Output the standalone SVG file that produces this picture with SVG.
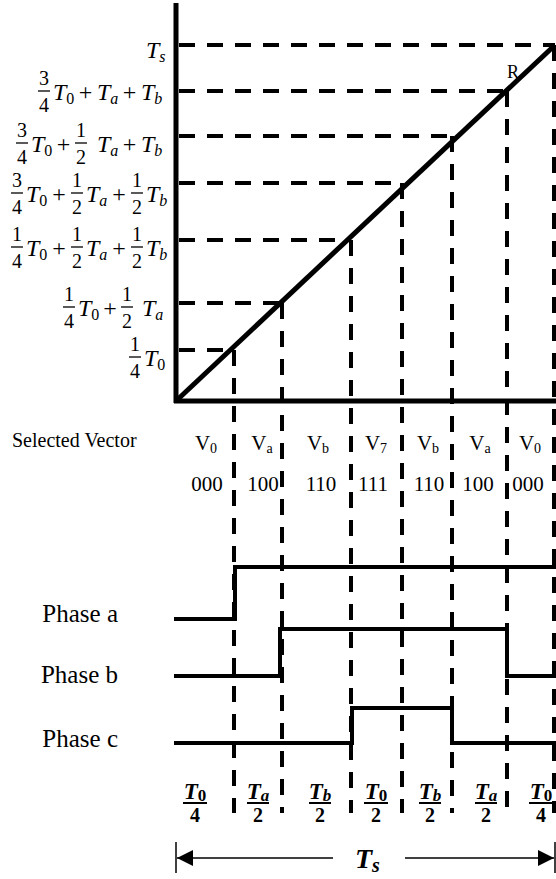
<svg xmlns="http://www.w3.org/2000/svg" width="556" height="879" viewBox="0 0 556 879">
<style>
text{font-family:"Liberation Serif","Times New Roman",serif;fill:#000}
.n{font-size:20px;text-anchor:middle}
.it{font-size:24px;font-style:italic}
.sb{font-size:16px;font-style:normal}
.sbi{font-size:16px;font-style:italic}
.op{font-size:24px;text-anchor:middle}
.lbl{font-size:20px}
.vl{font-size:21px;text-anchor:middle}
.vs{font-size:14px}
.ph{font-size:25px;text-anchor:end}
.bn{font-size:23px;font-weight:bold;font-style:italic;text-anchor:middle}
.bd{font-size:20px;font-weight:bold;text-anchor:middle}
.bar{stroke:#000;stroke-width:1.3}
.bbar{stroke:#000;stroke-width:2}
.axis{stroke:#000;stroke-width:5;fill:none}
.dash{stroke:#000;stroke-width:4;stroke-dasharray:16 12;fill:none}
.wave{stroke:#000;stroke-width:4;fill:none}
</style>
<defs>
<marker id="ah" markerWidth="16" markerHeight="16" viewBox="0 0 16 16" refX="16" refY="8" orient="auto" markerUnits="userSpaceOnUse">
<path d="M0,0 L16,8 L0,16 Z" fill="#000"/>
</marker>
</defs>

<g id="axes">
<line class="axis" x1="176" y1="3" x2="176" y2="403"/>
<line class="axis" x1="174" y1="401" x2="556" y2="401"/>
<line class="axis" x1="176" y1="401" x2="555" y2="45"/>
<text x="507" y="78" style="font-size:18px">R</text>
</g>

<g id="connectors">
<line class="dash" x1="179" y1="45" x2="555" y2="45"/>
<line class="dash" x1="179" y1="91" x2="507" y2="91"/>
<line class="dash" x1="179" y1="136" x2="452" y2="136"/>
<line class="dash" x1="179" y1="183" x2="402" y2="183"/>
<line class="dash" x1="179" y1="240" x2="351" y2="240"/>
<line class="dash" x1="179" y1="303" x2="282" y2="303"/>
<line class="dash" x1="179" y1="350" x2="234" y2="350"/>
<line class="dash" x1="234" y1="350" x2="234" y2="813"/>
<line class="dash" x1="282" y1="303" x2="282" y2="813"/>
<line class="dash" x1="351" y1="240" x2="351" y2="813"/>
<line class="dash" x1="402" y1="183" x2="402" y2="813"/>
<line class="dash" x1="452" y1="136" x2="452" y2="813"/>
<line class="dash" x1="507" y1="91" x2="507" y2="813"/>
<line class="dash" x1="554" y1="45" x2="554" y2="813"/>
</g>

<g id="ylabels">
<text class="it" x="146" y="58">T<tspan class="sbi" dy="4">s</tspan></text>

<g id="y-row2">
<text class="n" x="44" y="85">3</text><line class="bar" x1="38" y1="91" x2="50" y2="91"/><text class="n" x="44" y="112">4</text>
<text class="it" x="53" y="100">T<tspan class="sb" dy="4">0</tspan></text>
<text class="op" x="85.5" y="100">+</text>
<text class="it" x="97" y="100">T<tspan class="sbi" dy="4">a</tspan></text>
<text class="op" x="129.5" y="100">+</text>
<text class="it" x="141" y="100">T<tspan class="sbi" dy="4">b</tspan></text>
</g>

<g id="y-row3">
<text class="n" x="22" y="137">3</text><line class="bar" x1="16" y1="143" x2="28" y2="143"/><text class="n" x="22" y="164">4</text>
<text class="it" x="31" y="152">T<tspan class="sb" dy="4">0</tspan></text>
<text class="op" x="63.5" y="152">+</text>
<text class="n" x="81" y="137">1</text><line class="bar" x1="75" y1="143" x2="87" y2="143"/><text class="n" x="81" y="164">2</text>
<text class="it" x="97" y="152">T<tspan class="sbi" dy="4">a</tspan></text>
<text class="op" x="129.5" y="152">+</text>
<text class="it" x="141" y="152">T<tspan class="sbi" dy="4">b</tspan></text>
</g>

<g id="y-row4">
<text class="n" x="17" y="187">3</text><line class="bar" x1="11" y1="193" x2="23" y2="193"/><text class="n" x="17" y="214">4</text>
<text class="it" x="26" y="202">T<tspan class="sb" dy="4">0</tspan></text>
<text class="op" x="59" y="202">+</text>
<text class="n" x="77" y="187">1</text><line class="bar" x1="71" y1="193" x2="83" y2="193"/><text class="n" x="77" y="214">2</text>
<text class="it" x="86" y="202">T<tspan class="sbi" dy="4">a</tspan></text>
<text class="op" x="119" y="202">+</text>
<text class="n" x="137" y="187">1</text><line class="bar" x1="131" y1="193" x2="143" y2="193"/><text class="n" x="137" y="214">2</text>
<text class="it" x="146" y="202">T<tspan class="sbi" dy="4">b</tspan></text>
</g>

<g id="y-row5">
<text class="n" x="17" y="241">1</text><line class="bar" x1="11" y1="247" x2="23" y2="247"/><text class="n" x="17" y="268">4</text>
<text class="it" x="26" y="256">T<tspan class="sb" dy="4">0</tspan></text>
<text class="op" x="59" y="256">+</text>
<text class="n" x="77" y="241">1</text><line class="bar" x1="71" y1="247" x2="83" y2="247"/><text class="n" x="77" y="268">2</text>
<text class="it" x="86" y="256">T<tspan class="sbi" dy="4">a</tspan></text>
<text class="op" x="119" y="256">+</text>
<text class="n" x="137" y="241">1</text><line class="bar" x1="131" y1="247" x2="143" y2="247"/><text class="n" x="137" y="268">2</text>
<text class="it" x="146" y="256">T<tspan class="sbi" dy="4">b</tspan></text>
</g>

<g id="y-row6">
<text class="n" x="69" y="301">1</text><line class="bar" x1="63" y1="307" x2="75" y2="307"/><text class="n" x="69" y="328">4</text>
<text class="it" x="78" y="316">T<tspan class="sb" dy="4">0</tspan></text>
<text class="op" x="110" y="316">+</text>
<text class="n" x="127" y="301">1</text><line class="bar" x1="121" y1="307" x2="133" y2="307"/><text class="n" x="127" y="328">2</text>
<text class="it" x="142" y="316">T<tspan class="sbi" dy="4">a</tspan></text>
</g>

<g id="y-row7">
<text class="n" x="135" y="351">1</text><line class="bar" x1="129" y1="357" x2="141" y2="357"/><text class="n" x="135" y="378">4</text>
<text class="it" x="144" y="366">T<tspan class="sb" dy="4">0</tspan></text>
</g>
</g>

<g id="vectors">
<text class="lbl" x="12" y="447">Selected Vector</text>
<text class="vl" x="206" y="450">V<tspan class="vs" dy="3">0</tspan></text>
<text class="vl" x="262" y="450">V<tspan class="vs" dy="3">a</tspan></text>
<text class="vl" x="318" y="450">V<tspan class="vs" dy="3">b</tspan></text>
<text class="vl" x="376" y="450">V<tspan class="vs" dy="3">7</tspan></text>
<text class="vl" x="428" y="450">V<tspan class="vs" dy="3">b</tspan></text>
<text class="vl" x="480" y="450">V<tspan class="vs" dy="3">a</tspan></text>
<text class="vl" x="530" y="450">V<tspan class="vs" dy="3">0</tspan></text>
<text class="vl" x="207" y="491">000</text>
<text class="vl" x="263" y="491">100</text>
<text class="vl" x="321" y="491">110</text>
<text class="vl" x="373" y="491">111</text>
<text class="vl" x="429" y="491">110</text>
<text class="vl" x="478" y="491">100</text>
<text class="vl" x="528" y="491">000</text>
</g>

<g id="phase-a">
<text class="ph" x="118" y="622">Phase a</text>
<polyline class="wave" points="174,619 235,619 235,567 556,567"/>
</g>
<g id="phase-b">
<text class="ph" x="118" y="683">Phase b</text>
<polyline class="wave" points="174,676 280,676 280,629 507,629 507,676 556,676"/>
</g>
<g id="phase-c">
<text class="ph" x="118" y="747">Phase c</text>
<polyline class="wave" points="174,743 352,743 352,708 452,708 452,743 556,743"/>
</g>

<g id="durations">
<text class="bn" x="195" y="799">T<tspan style="font-size:17px;font-style:normal" dy="2">0</tspan></text><line class="bbar" x1="183" y1="803" x2="207" y2="803"/><text class="bd" x="195" y="822">4</text>
<text class="bn" x="258" y="799">T<tspan style="font-size:17px" dy="2">a</tspan></text><line class="bbar" x1="247" y1="803" x2="269" y2="803"/><text class="bd" x="258" y="822">2</text>
<text class="bn" x="320" y="799">T<tspan style="font-size:17px" dy="2">b</tspan></text><line class="bbar" x1="309" y1="803" x2="331" y2="803"/><text class="bd" x="320" y="822">2</text>
<text class="bn" x="376" y="799">T<tspan style="font-size:17px;font-style:normal" dy="2">0</tspan></text><line class="bbar" x1="364" y1="803" x2="388" y2="803"/><text class="bd" x="376" y="822">2</text>
<text class="bn" x="430" y="799">T<tspan style="font-size:17px" dy="2">b</tspan></text><line class="bbar" x1="419" y1="803" x2="441" y2="803"/><text class="bd" x="430" y="822">2</text>
<text class="bn" x="486" y="799">T<tspan style="font-size:17px" dy="2">a</tspan></text><line class="bbar" x1="475" y1="803" x2="497" y2="803"/><text class="bd" x="486" y="822">2</text>
<text class="bn" x="541" y="799">T<tspan style="font-size:17px;font-style:normal" dy="2">0</tspan></text><line class="bbar" x1="529" y1="803" x2="553" y2="803"/><text class="bd" x="541" y="822">4</text>
</g>

<g id="period">
<line x1="176" y1="842" x2="176" y2="873" stroke="#000" stroke-width="1.5"/>
<line x1="555" y1="842" x2="555" y2="873" stroke="#000" stroke-width="1.5"/>
<line x1="333" y1="858" x2="177" y2="858" stroke="#000" stroke-width="1.5" marker-end="url(#ah)"/>
<line x1="405" y1="858" x2="554" y2="858" stroke="#000" stroke-width="1.5" marker-end="url(#ah)"/>
<text x="355" y="868" style="font-size:28px;font-weight:bold;font-style:italic">T<tspan style="font-size:20px" dy="4">s</tspan></text>
</g>
</svg>
